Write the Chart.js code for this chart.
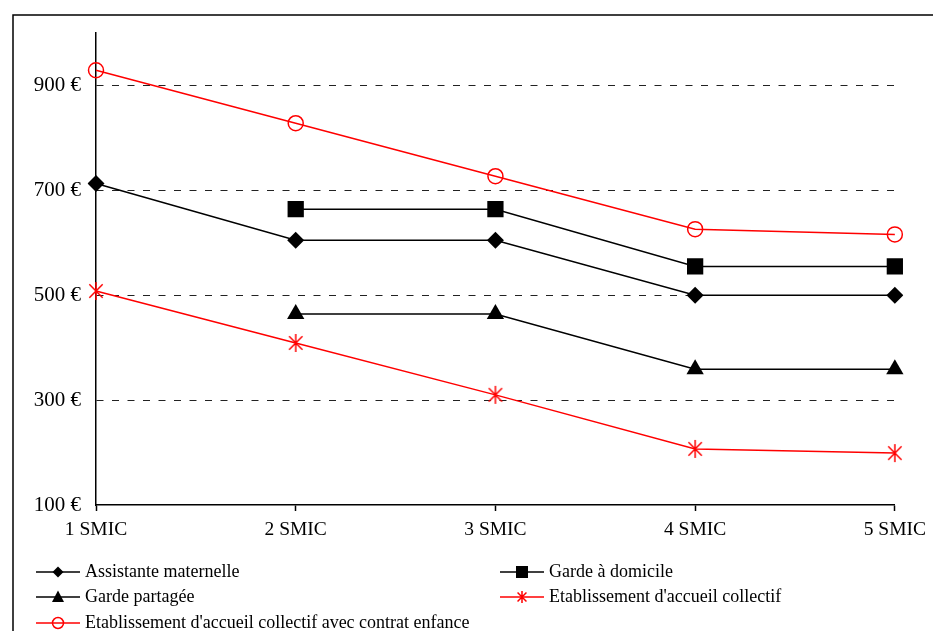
<!DOCTYPE html>
<html>
<head>
<meta charset="utf-8">
<script src="https://cdn.jsdelivr.net/npm/chart.js@4/dist/chart.umd.min.js"></script>
<style>
  html, body { margin: 0; padding: 0; background: #fff; }
  #wrap { width: 933px; height: 631px; position: relative; }
</style>
</head>
<body>
<div id="wrap"><canvas id="c" width="933" height="631"></canvas></div>
<script>
// Monthly cost by household income level
const categories = ['1 SMIC', '2 SMIC', '3 SMIC', '4 SMIC', '5 SMIC'];
const yTickValues = [100, 300, 500, 700, 900];

const assistanteMaternelle = [713, 605, 605, 500, 500];
const gardeDomicile = [null, 664, 664, 555, 555];
const gardePartagee = [null, 464, 464, 359, 359];
const etablissementCollectif = [508, 409, 310, 207, 199];
const etablissementContrat = [929, 828, 727, 626, 616];

const seriesNames = [
  'Assistante maternelle',
  'Garde à domicile',
  'Garde partagée',
  "Etablissement d'accueil collectif",
  "Etablissement d'accueil collectif avec contrat enfance"
];

const FONT = "'Liberation Serif', 'Times New Roman', serif";
const RED = '#ff0000';

// Asterisk marker: an X crossed by a vertical stroke
function makeAsterisk(size) {
  const cv = document.createElement('canvas');
  cv.width = size; cv.height = size;
  const g = cv.getContext('2d');
  g.strokeStyle = RED; g.lineWidth = 1.5;
  const m = size / 2, r = size / 2 - 1;
  const d = r * Math.SQRT1_2 * 1.05;
  g.beginPath();
  g.moveTo(m - d, m - d); g.lineTo(m + d, m + d);
  g.moveTo(m + d, m - d); g.lineTo(m - d, m + d);
  g.moveTo(m, m - r); g.lineTo(m, m + r);
  g.stroke();
  return cv;
}
const asterisk = makeAsterisk(20);
const asteriskSmall = makeAsterisk(14);

const datasets = [
  { label: seriesNames[0], data: assistanteMaternelle, borderColor: '#000', backgroundColor: '#000',
    pointStyle: 'rectRot', pointRadius: 8.5, pointBorderWidth: 0 },
  { label: seriesNames[1], data: gardeDomicile, borderColor: '#000', backgroundColor: '#000',
    pointStyle: 'rect', pointRadius: 11.5, pointBorderWidth: 0 },
  { label: seriesNames[2], data: gardePartagee, borderColor: '#000', backgroundColor: '#000',
    pointStyle: 'triangle', pointRadius: 10, pointBorderWidth: 0 },
  { label: seriesNames[3], data: etablissementCollectif, borderColor: RED, backgroundColor: RED,
    pointStyle: asterisk, pointRadius: 10, pointBorderWidth: 0 },
  { label: seriesNames[4], data: etablissementContrat, borderColor: RED, backgroundColor: 'rgba(0,0,0,0)',
    pointStyle: 'circle', pointRadius: 7.5, pointBorderColor: RED, pointBorderWidth: 1.5 }
].map(d => Object.assign({ borderWidth: 1.5, tension: 0, fill: false, pointHoverRadius: d.pointRadius }, d));

function drawMarker(ctx, kind, x, y) {
  ctx.save();
  ctx.fillStyle = '#000';
  ctx.beginPath();
  if (kind === 0) {
    const r = 5.5;
    ctx.moveTo(x, y - r); ctx.lineTo(x + r, y); ctx.lineTo(x, y + r); ctx.lineTo(x - r, y);
    ctx.closePath(); ctx.fill();
  } else if (kind === 1) {
    ctx.rect(x - 6, y - 6, 12, 12); ctx.fill();
  } else if (kind === 2) {
    ctx.moveTo(x, y - 6.5); ctx.lineTo(x + 6, y + 5); ctx.lineTo(x - 6, y + 5);
    ctx.closePath(); ctx.fill();
  } else if (kind === 3) {
    ctx.drawImage(asteriskSmall, x - 7, y - 7);
  } else {
    ctx.strokeStyle = RED; ctx.lineWidth = 1.5;
    ctx.arc(x, y, 5.5, 0, Math.PI * 2); ctx.stroke();
  }
  ctx.restore();
}

const framePlugin = {
  id: 'frame',
  beforeDraw(chart) {
    const ctx = chart.ctx;
    ctx.save();
    ctx.fillStyle = '#fff';
    ctx.fillRect(0, 0, chart.width, chart.height);
    ctx.strokeStyle = '#000';
    ctx.lineWidth = 1.5;
    ctx.beginPath();
    ctx.moveTo(13, chart.height);
    ctx.lineTo(13, 15);
    ctx.lineTo(chart.width, 15);
    ctx.stroke();
    ctx.restore();
  }
};

const legendPlugin = {
  id: 'twoColumnLegend',
  afterDraw(chart) {
    const ctx = chart.ctx;
    const cols = [36, 500];
    const rows = [572, 597, 623];
    ctx.save();
    ctx.font = '18px ' + FONT;
    ctx.textBaseline = 'middle';
    ctx.textAlign = 'left';
    seriesNames.forEach((name, i) => {
      const x = cols[i % 2];
      const y = rows[Math.floor(i / 2)];
      const color = i >= 3 ? RED : '#000';
      ctx.strokeStyle = color;
      ctx.lineWidth = 1.5;
      ctx.beginPath();
      ctx.moveTo(x, y); ctx.lineTo(x + 44, y);
      ctx.stroke();
      drawMarker(ctx, i, x + 22, y);
      ctx.fillStyle = '#000';
      ctx.fillText(name, x + 49, y);
    });
    ctx.restore();
  }
};

new Chart(document.getElementById('c'), {
  type: 'line',
  data: { labels: categories, datasets },
  plugins: [framePlugin, legendPlugin],
  options: {
    responsive: false,
    animation: false,
    devicePixelRatio: 1,
    layout: { padding: { left: 13, top: 33, right: 34, bottom: 81 } },
    plugins: { legend: { display: false }, tooltip: { enabled: false } },
    scales: {
      x: {
        offset: false,
        afterFit(axis) { axis.height = 45; },
        grid: { drawOnChartArea: false, drawTicks: true, tickLength: 6, tickColor: '#000', tickWidth: 1.5 },
        border: { color: '#000', width: 1.5 },
        ticks: { color: '#000', font: { family: FONT, size: 19.5 }, padding: 7, maxRotation: 0, autoSkip: false }
      },
      y: {
        min: 100,
        max: 1000,
        afterFit(axis) { axis.width = 83; },
        afterBuildTicks(axis) { axis.ticks = yTickValues.map(v => ({ value: v })); },
        grid: {
          color: ctx => (ctx.tick && ctx.tick.value === 100 ? 'rgba(0,0,0,0)' : '#222'),
          lineWidth: 1, drawTicks: false
        },
        border: { color: '#000', width: 1.5, dash: [7, 8.5] },
        ticks: {
          color: '#000', font: { family: FONT, size: 21 }, padding: 15,
          callback: v => v + ' €'
        }
      }
    }
  }
});
</script>
</body>
</html>
